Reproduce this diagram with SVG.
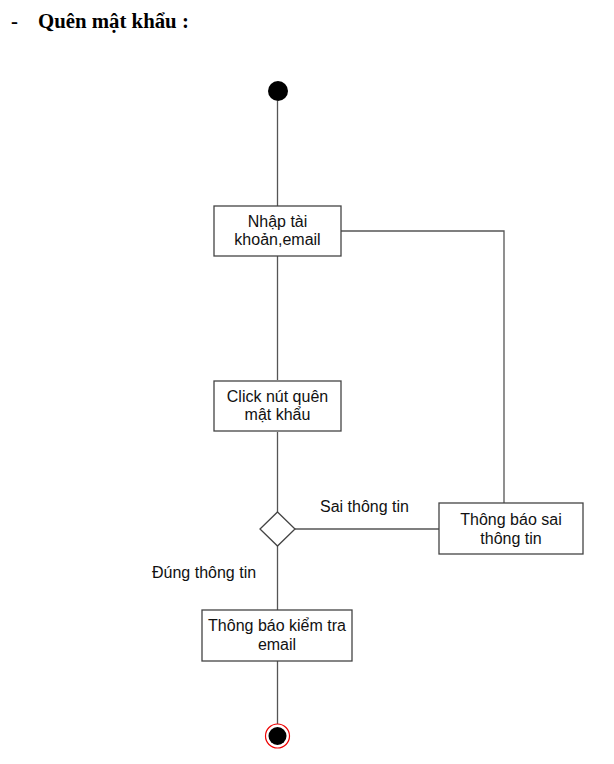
<svg xmlns="http://www.w3.org/2000/svg" width="614" height="764" viewBox="0 0 614 764">
<style>
.title{font-family:"Liberation Serif","Times New Roman",serif;font-weight:bold;font-size:20.8px;fill:#000}
.box{fill:#fff;stroke:#444;stroke-width:1.3}
.t{font-family:"Liberation Sans",Arial,sans-serif;font-size:16px;fill:#111;text-anchor:middle}
.lbl{font-family:"Liberation Sans",Arial,sans-serif;font-size:16px;fill:#111}
.c{fill:none;stroke:#555;stroke-width:1.3}
</style>
<rect width="614" height="764" fill="#fff"/>
<g id="title">
<text class="title" x="11" y="28">-</text>
<text class="title" x="38" y="28">Quên mật khẩu :</text>
</g>
<g id="connectors">
<path class="c" d="M277.5 101 V206"/>
<path class="c" d="M277.5 256 V380"/>
<path class="c" d="M341 231 H504 V503"/>
<path class="c" d="M277.5 432 V512"/>
<path class="c" d="M295 529 H439"/>
<path class="c" d="M277.5 546 V610"/>
<path class="c" d="M277.5 661 V724"/>
<text class="lbl" x="320" y="512">Sai thông tin</text>
<text class="lbl" x="152" y="578">Đúng thông tin</text>
</g>
<g id="start"><circle cx="278" cy="91" r="10" fill="#000"/></g>
<g id="nhap">
<rect class="box" x="214" y="206" width="127" height="50"/>
<text class="t" x="277.5" y="227">Nhập tài</text>
<text class="t" x="277.5" y="245">khoản,email</text>
</g>
<g id="click">
<rect class="box" x="214" y="381" width="127" height="50"/>
<text class="t" x="277.5" y="402">Click nút quên</text>
<text class="t" x="277.5" y="420">mật khẩu</text>
</g>
<g id="decision"><path class="box" d="M277.5 512 L295 529 L277.5 546 L260 529 Z"/></g>
<g id="sai">
<rect class="box" x="439" y="503" width="144" height="51"/>
<text class="t" x="511" y="525">Thông báo sai</text>
<text class="t" x="511" y="544">thông tin</text>
</g>
<g id="kiemtra">
<rect class="box" x="202" y="610" width="150" height="51"/>
<text class="t" x="277" y="631">Thông báo kiểm tra</text>
<text class="t" x="277" y="650">email</text>
</g>
<g id="end">
<circle cx="277.5" cy="736" r="12" fill="#fff" stroke="#e00" stroke-width="1.2"/>
<circle cx="277.5" cy="736" r="9" fill="#000"/>
</g>
</svg>
